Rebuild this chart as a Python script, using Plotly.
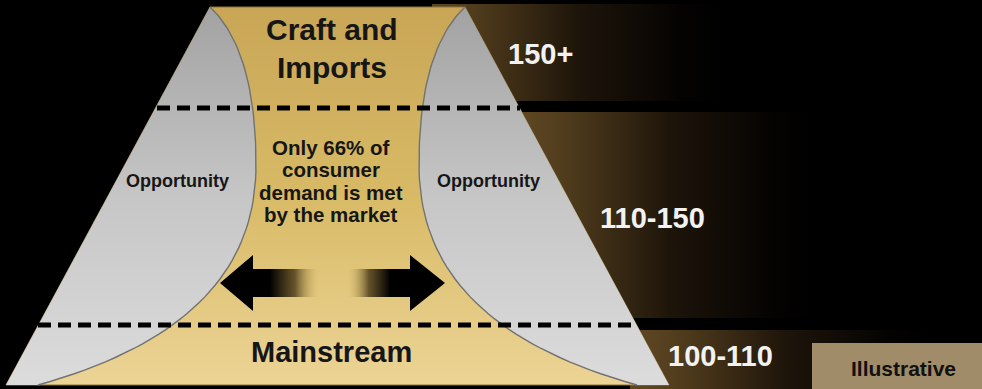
import numpy as np
import plotly.graph_objects as go

# ---------------- data / labels ----------------
tier_labels = ["150+", "110-150", "100-110"]
tier_label_x = [540, 652, 720]
tier_label_y = [54, 218, 356]
band_top = [4, 112, 330]
band_bottom = [101, 318, 389]
band_left = [432, 515, 630]
band_start = [432, 524, 640]

segment_top = ["Craft and", "Imports"]
segment_top_y = [29, 67]
segment_bottom = "Mainstream"
middle_lines = ["Only 66% of", "consumer", "demand is met", "by the market"]
middle_lines_y = [147, 169, 192, 214]
side_label = "Opportunity"
side_label_x = [177, 488]
side_label_y = 181
badge_text = "Illustrative"

# diagram geometry
trap_x = [210, 465, 669, 6, 210]
trap_y = [7, 7, 385, 385, 7]
center_x = 337.5
# control points of the left hourglass curve (two cubic Bezier pieces)
upper_ctrl = [(210, 7), (245, 40), (256, 100), (256, 165)]
lower_ctrl = [(256, 165), (256, 260), (200, 340), (38, 385)]
divider_y = [108, 325]
divider_x0 = [157, 38]
divider_x1 = [520, 637]

W, H = 982, 389
fig = go.Figure()


def bezier(ctrl, n=40):
    t = np.linspace(0, 1, n)[:, None]
    p = np.array(ctrl, dtype=float)
    pts = ((1 - t) ** 3) * p[0] + 3 * ((1 - t) ** 2) * t * p[1] + 3 * (1 - t) * t ** 2 * p[2] + t ** 3 * p[3]
    return pts[:, 0], pts[:, 1]


ux, uy = bezier(upper_ctrl)
lx_, ly_ = bezier(lower_ctrl)
curve_x = np.concatenate([ux, lx_[1:]])
curve_y = np.concatenate([uy, ly_[1:]])

# ---------------- background bands ----------------
for t, b, l, s in zip(band_top, band_bottom, band_left, band_start):
    fig.add_trace(go.Scatter(
        x=[l, W, W, l, l], y=[t, t, b, b, t],
        mode="lines", line=dict(width=0), fill="toself",
        fillgradient=dict(type="horizontal", start=s, stop=s + 290,
                          colorscale=[[0, "#5e4622"], [0.15, "#4f3b1c"],
                                      [0.5, "#1e150a"], [0.85, "#050302"], [1, "#000000"]]),
        hoverinfo="skip", showlegend=False))

# ---------------- gold trapezoid ----------------
fig.add_trace(go.Scatter(
    x=trap_x, y=trap_y, mode="lines", line=dict(width=1, color="#8a7440"),
    fill="toself",
    fillgradient=dict(type="vertical", start=7, stop=385,
                      colorscale=[[0, "#c8a656"], [0.5, "#d8ba66"], [1, "#ecd496"]]),
    hoverinfo="skip", showlegend=False))

# ---------------- gray opportunity regions ----------------
left_x = list(curve_x) + [trap_x[3], curve_x[0]]
left_y = list(curve_y) + [trap_y[3], curve_y[0]]
right_x = [2 * center_x - v for v in left_x]
right_y = left_y

for xs, ys in ((left_x, left_y), (right_x, right_y)):
    fig.add_trace(go.Scatter(
        x=xs, y=ys, mode="lines", line=dict(width=0),
        fill="toself",
        fillgradient=dict(type="vertical", start=7, stop=385,
                          colorscale=[[0, "#a2a2a2"], [0.5, "#c6c6c6"], [1, "#dcdcdc"]]),
        hoverinfo="skip", showlegend=False))

for xs in (curve_x, 2 * center_x - curve_x):
    fig.add_trace(go.Scatter(
        x=xs, y=curve_y, mode="lines", line=dict(width=1.4, color="#727272"),
        hoverinfo="skip", showlegend=False))

# ---------------- dashed dividers ----------------
for yv, a, b in zip(divider_y, divider_x0, divider_x1):
    fig.add_trace(go.Scatter(
        x=[a, b], y=[yv, yv], mode="lines",
        line=dict(color="#000000", width=5, dash="13px,7px"),
        hoverinfo="skip", showlegend=False))

# ---------------- double arrow ----------------
ay, head_h, shaft_h = 283, 28, 14
lx = [220, 253, 253, 320, 320, 253, 253, 220]
ly = [ay, ay - head_h, ay - shaft_h, ay - shaft_h, ay + shaft_h, ay + shaft_h, ay + head_h, ay]
rx = [445, 410, 410, 347, 347, 410, 410, 445]
fig.add_trace(go.Scatter(
    x=lx, y=ly, mode="lines", line=dict(width=0), fill="toself",
    fillgradient=dict(type="horizontal", start=220, stop=320,
                      colorscale=[[0, "#000000"], [0.5, "#000000"], [0.75, "rgba(60,45,15,0.75)"],
                                  [1, "rgba(220,190,105,0)"]]),
    hoverinfo="skip", showlegend=False))
fig.add_trace(go.Scatter(
    x=rx, y=ly, mode="lines", line=dict(width=0), fill="toself",
    fillgradient=dict(type="horizontal", start=347, stop=445,
                      colorscale=[[0, "rgba(220,190,105,0)"], [0.22, "rgba(60,45,15,0.75)"],
                                  [0.44, "#000000"], [1, "#000000"]]),
    hoverinfo="skip", showlegend=False))

# ---------------- texts ----------------
FONT = "Liberation Sans, Arial, sans-serif"
DARK = "#161616"
ann = []
for t, yv in zip(segment_top, segment_top_y):
    ann.append(dict(x=332, y=yv, text=t, font=dict(size=30, color=DARK, family=FONT, weight="bold")))
ann.append(dict(x=331, y=352, text=segment_bottom, font=dict(size=29, color=DARK, family=FONT, weight="bold")))
for t, yv in zip(middle_lines, middle_lines_y):
    ann.append(dict(x=center_x - 7, y=yv, text=t, font=dict(size=20.5, color=DARK, family=FONT, weight="bold")))
for xv in side_label_x:
    ann.append(dict(x=xv, y=side_label_y, text=side_label, font=dict(size=18, color=DARK, family=FONT, weight="bold")))
for t, xv, yv in zip(tier_labels, tier_label_x, tier_label_y):
    ann.append(dict(x=xv, y=yv, text=t, font=dict(size=29, color="#f2f2f2", family=FONT, weight="bold")))
ann.append(dict(x=903, y=368, text=badge_text, font=dict(size=21, color="#111111", family=FONT, weight="bold")))
for a in ann:
    a.update(xref="x", yref="y", showarrow=False, xanchor="center", yanchor="middle")

fig.update_layout(
    width=W, height=H, margin=dict(l=0, r=0, t=0, b=0),
    paper_bgcolor="#000000", plot_bgcolor="#000000",
    xaxis=dict(range=[0, W], visible=False, fixedrange=True),
    yaxis=dict(range=[H, 0], visible=False, fixedrange=True),
    annotations=ann,
    shapes=[dict(type="rect", xref="x", yref="y", x0=812, x1=W, y0=343, y1=H,
                 fillcolor="#a08c68", line=dict(width=0), layer="above")],
)
fig.write_html("out.html")
